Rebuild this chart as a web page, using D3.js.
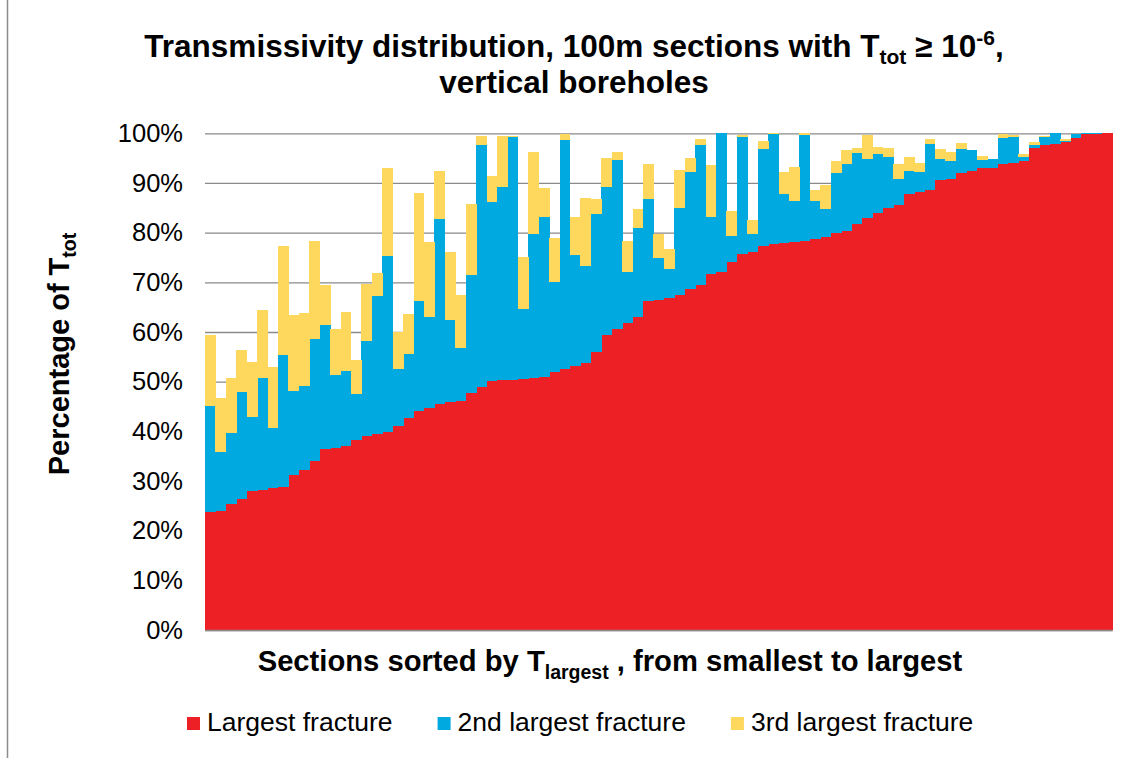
<!DOCTYPE html>
<html>
<head>
<meta charset="utf-8">
<script src="https://cdn.jsdelivr.net/npm/d3@7"></script>
<style>
  html, body { margin: 0; padding: 0; background: #fff; }
  svg { display: block; font-family: "Liberation Sans", Arial, Helvetica, sans-serif; }
</style>
</head>
<body>
<svg id="chart" width="1134" height="758"></svg>
<script>
// Share of total transmissivity (%) carried by the three largest fractures
// in each 100 m section, sections ordered by the largest fracture's share.
const largest = [
  23.8, 24.0, 25.3, 26.4, 27.9, 28.1, 28.5, 28.7, 31.3, 32.3,
  34.1, 36.4, 36.6, 37.0, 38.2, 39.1, 39.5, 39.9, 41.1, 42.6,
  44.0, 44.6, 45.6, 46.0, 46.2, 47.8, 48.9, 50.1, 50.3, 50.3,
  50.6, 50.7, 50.9, 51.9, 52.6, 53.1, 53.8, 55.9, 59.3, 60.5,
  61.9, 63.0, 66.3, 66.5, 66.8, 67.4, 68.7, 69.5, 71.7, 72.1,
  74.1, 75.6, 76.1, 77.4, 77.8, 77.9, 78.1, 78.3, 78.7, 79.2,
  80.0, 80.3, 81.7, 83.0, 83.9, 85.0, 85.5, 87.7, 88.1, 88.6,
  90.5, 90.7, 92.1, 92.5, 93.0, 93.1, 93.8, 94.1, 94.4, 97.0,
  97.7, 97.9, 98.2, 99.1, 99.8, 99.9, 100.0
];
const second = [
  21.3, 11.8, 14.4, 21.5, 14.9, 22.6, 12.2, 26.7, 16.9, 16.8,
  24.5, 25.0, 14.7, 15.1,  9.4, 19.1, 27.7, 35.4, 11.5, 13.0,
  22.2, 18.4, 37.2, 16.4, 10.6, 23.7, 48.8, 36.1, 38.8, 48.9,
  14.0, 29.1, 32.3, 18.2, 46.1, 22.4, 19.5, 27.9, 29.8, 34.2,
  10.2, 17.9, 20.5,  8.3,  5.9, 17.6, 23.6, 28.1, 11.4, 27.9,
   5.2, 23.6,  3.6, 19.5, 22.1,  9.8,  8.3, 21.4,  7.7,  5.5,
  12.1, 13.5, 14.3, 11.8, 11.9, 10.2,  5.2,  4.8,  4.2,  9.3,
   4.4,  3.8,  4.8,  4.1,  1.6,  1.8,  5.2,  5.2,  0.8,  0.7,
   1.5,  2.1,  0.3,  0.8,  0.2,  0.1,  0.0
];
const third = [
  14.3, 11.0, 11.0,  8.5, 11.1, 13.7, 12.3, 21.9, 15.2, 14.8,
  19.8,  8.0,  9.3, 11.9,  6.8, 11.5,  4.7, 17.7,  7.3,  8.0,
  21.7, 15.1,  9.6, 13.7, 10.6, 14.3,  1.7,  5.2, 10.3,  0.3,
  10.5, 16.5,  5.7,  8.8,  1.1,  7.7, 13.7,  3.0,  5.9,  1.6,
   6.3,  3.9,  7.0,  4.9,  4.0,  7.6,  2.7,  1.3, 10.5,  0.0,
   5.1,  0.5,  2.9,  1.6,  0.1,  4.5,  6.8,  0.3,  2.1,  4.9,
   2.3,  2.8,  1.1,  4.9,  1.4,  1.8,  3.1,  2.7,  1.8,  1.0,
   1.9,  1.7,  1.1,  0.0,  0.9,  0.0,  0.8,  0.4,  0.7,  0.6,
   0.3,  0.0,  0.3,  0.0,  0.0,  0.0,  0.0
];
const seriesKeys   = ["largest", "second", "third"];
const seriesNames  = ["Largest fracture", "2nd largest fracture", "3rd largest fracture"];
const seriesColors = ["#ED2125", "#00A9E0", "#FDD85D"];
const yTicks = [0, 10, 20, 30, 40, 50, 60, 70, 80, 90, 100];

// one row per section, ranked 1..n
const sections = largest.map((_, i) => i + 1);
const rows = sections.map((s, i) => ({
  section: s, largest: largest[i], second: second[i], third: third[i]
}));

const svg = d3.select("#chart");
const plot = { left: 205, right: 1112.3, top: 133.3, bottom: 630 };
const gridColor = "#8A8A8A";

const x = d3.scaleBand().domain(sections).range([plot.left, plot.right]).padding(0);
const y = d3.scaleLinear().domain([0, 100]).range([plot.bottom, plot.top]);
const color = d3.scaleOrdinal().domain(seriesKeys).range(seriesColors);

// chart frame (left edge)
svg.append("line")
  .attr("x1", 7.5).attr("x2", 7.5).attr("y1", 0).attr("y2", 758)
  .attr("stroke", "#8C8C8C").attr("stroke-width", 1.5);

// y axis with gridlines
const yAxis = svg.append("g")
  .attr("transform", `translate(${plot.left},0)`)
  .call(d3.axisLeft(y)
    .tickValues(yTicks)
    .tickSize(-(plot.right - plot.left))
    .tickPadding(22)
    .tickFormat(d => d + "%"));
yAxis.select(".domain").remove();
yAxis.selectAll(".tick line").attr("stroke", gridColor).attr("stroke-width", 1.3);
yAxis.selectAll(".tick text")
  .attr("font-size", 25.5).attr("fill", "#000")
  .attr("font-family", "'Liberation Sans', Arial, sans-serif");

// stacked bars
const stacked = d3.stack().keys(seriesKeys)(rows);
svg.append("g")
  .attr("shape-rendering", "crispEdges")
  .selectAll("g")
  .data(stacked)
  .join("g")
  .attr("fill", d => color(d.key))
  .selectAll("rect")
  .data(d => d)
  .join("rect")
  .attr("x", d => x(d.data.section))
  .attr("width", x.bandwidth() + 0.4)
  .attr("y", d => y(d[1]))
  .attr("height", d => Math.max(0, y(d[0]) - y(d[1])));

// category axis line (no labels)
const xAxis = svg.append("g")
  .attr("transform", `translate(0,${plot.bottom})`)
  .call(d3.axisBottom(x).tickSize(0).tickFormat(""));
xAxis.select(".domain").attr("stroke", gridColor).attr("stroke-width", 1.3);

// title
const title = svg.append("text")
  .attr("x", 574).attr("y", 57)
  .attr("text-anchor", "middle")
  .attr("font-size", 31.5).attr("font-weight", "bold");
title.append("tspan").text("Transmissivity distribution, 100m sections with T");
title.append("tspan").attr("font-size", 21).attr("dy", 7).text("tot");
title.append("tspan").attr("dy", -7).text(" \u2265 10");
title.append("tspan").attr("font-size", 21).attr("dy", -12).text("-6");
title.append("tspan").attr("dy", 12).text(",");
svg.append("text")
  .attr("x", 574).attr("y", 93)
  .attr("text-anchor", "middle")
  .attr("font-size", 31.5).attr("font-weight", "bold")
  .text("vertical boreholes");

// y axis title
const yTitle = svg.append("text")
  .attr("transform", "translate(69,354) rotate(-90)")
  .attr("text-anchor", "middle")
  .attr("font-size", 29).attr("font-weight", "bold");
yTitle.append("tspan").text("Percentage of T");
yTitle.append("tspan").attr("font-size", 19.5).attr("dy", 7).text("tot");

// x axis title
const xTitle = svg.append("text")
  .attr("x", 610).attr("y", 671)
  .attr("text-anchor", "middle")
  .attr("font-size", 29.2).attr("font-weight", "bold");
xTitle.append("tspan").text("Sections sorted by T");
xTitle.append("tspan").attr("font-size", 19.5).attr("dy", 8).text("largest");
xTitle.append("tspan").attr("dy", -8).text(" , from smallest to largest");

// legend
const legend = svg.append("g");
let lx = 187;
seriesKeys.forEach((k, i) => {
  legend.append("rect")
    .attr("x", lx).attr("y", 717).attr("width", 13).attr("height", 13)
    .attr("fill", color(k));
  const t = legend.append("text")
    .attr("x", lx + 20).attr("y", 731)
    .attr("font-size", 26.5)
    .text(seriesNames[i]);
  lx += 20 + t.node().getComputedTextLength() + 45;
});
</script>
</body>
</html>
